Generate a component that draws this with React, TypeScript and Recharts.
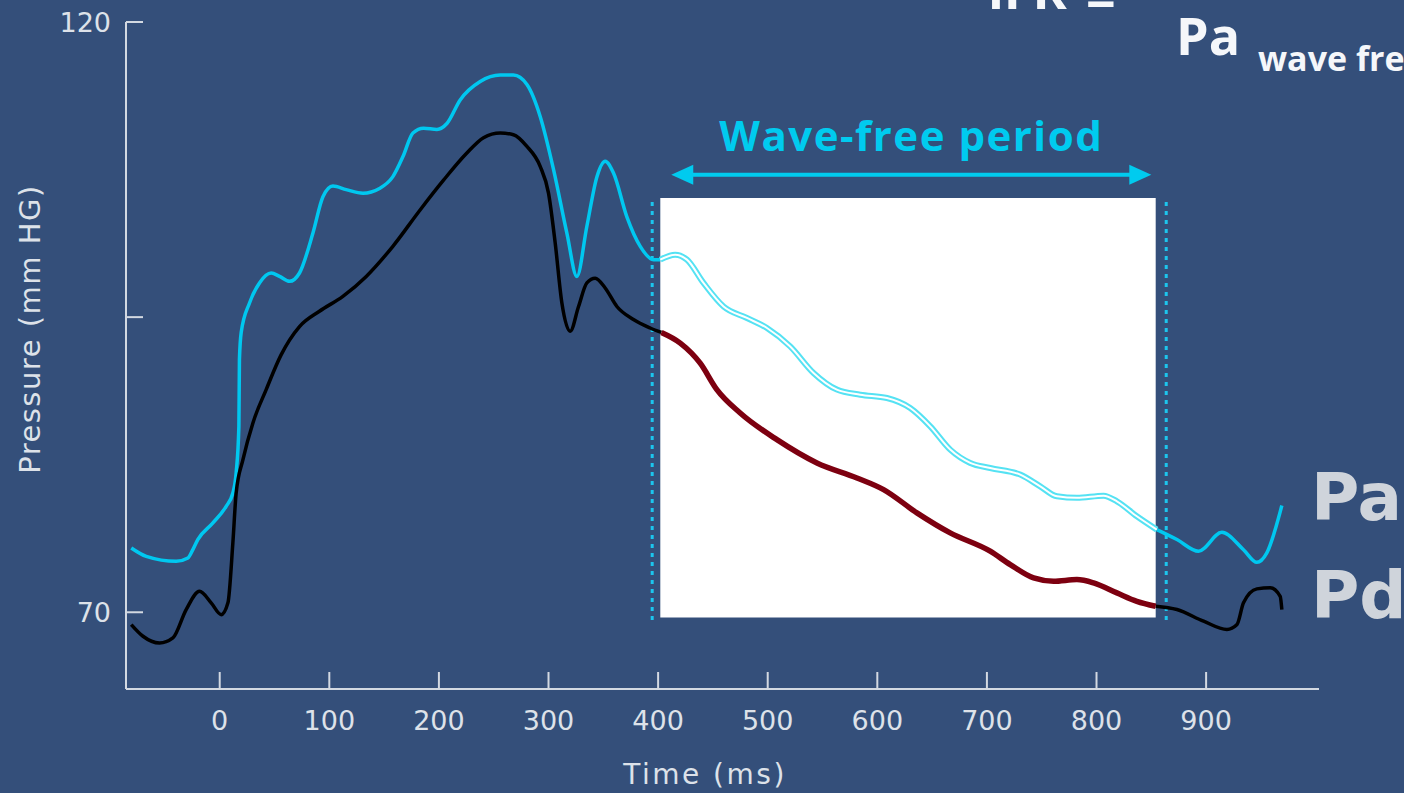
import { LineChart, Line, XAxis, YAxis, ReferenceArea, ReferenceLine } from 'recharts';

// time (ms), pressure (mmHg)
const paBefore: [number, number][] = [
  [-80.7, 75.45], [-67, 74.74], [-39.7, 74.32], [-29, 74.6], [-24.5, 75.3], [-20, 76.15],
  [-6.2, 77.57], [5.9, 78.98], [12, 80.1], [15, 81.8], [17.5, 85.75], [18, 91.4], [19.6, 93.7],
  [27.2, 96.2], [36.3, 97.9], [47, 98.74], [54.6, 98.45], [63.7, 98.03], [72.8, 98.74],
  [85, 102.1], [94.2, 105.2], [103.3, 106.1], [115.4, 105.8], [130.7, 105.5], [145.8, 105.9],
  [158, 106.9], [167.2, 108.6], [176.3, 110.6], [186, 111.0], [198.2, 110.9], [207.3, 111.4],
  [219.4, 113.4], [237.7, 114.96], [255.9, 115.5], [268, 115.5], [280.3, 114.7], [292.4, 112.0],
  [304.6, 107.5], [316.8, 102.1], [325.9, 98.45], [335, 102.7], [344.2, 106.9], [351.7, 108.2],
  [359.3, 107.2], [371.5, 103.5], [383.7, 101.0], [395.8, 99.87], [402, 99.87],
];
const paWaveFree: [number, number][] = [
  [402, 99.87], [415.6, 100.29], [426.3, 99.87], [441.4, 97.9], [459.7, 95.9], [481, 94.93],
  [499.3, 94.08], [520.5, 92.52], [541.8, 90.27], [563.1, 88.86], [584.4, 88.43], [608.8, 88.15],
  [630, 87.3], [648.3, 85.75], [666.5, 83.78], [684.8, 82.65], [703, 82.22], [730.4, 81.66],
  [748.6, 80.67], [763.9, 79.82], [782.1, 79.69], [806.4, 79.88], [818.6, 79.4], [836.8, 78.13],
  [855, 77.0],
];
const paAfter: [number, number][] = [
  [855, 77.0], [873.4, 76.16], [893.1, 75.17], [914.4, 76.77], [934.1, 75.3], [946.3, 74.23],
  [955.4, 75.03], [969.1, 79.04],
];
const pdBefore: [number, number][] = [
  [-80.7, 68.96], [-70, 67.97], [-54.9, 67.4], [-42.7, 67.83], [-30.6, 70.23], [-18.4, 71.78],
  [-7.8, 70.8], [1.4, 69.8], [7.5, 70.8], [12, 75.88], [15, 80.1], [21.2, 82.93], [30.3, 86.04],
  [42.4, 88.86], [56, 91.8], [72.8, 94.2], [91, 95.5], [112.4, 96.76], [133.7, 98.45], [158, 101],
  [183, 104.1], [204.2, 106.6], [225.5, 108.9], [240.7, 110.2], [255.9, 110.6], [268, 110.45],
  [280.3, 109.46], [292.4, 107.77], [300, 105.5], [306.1, 101.28], [312.2, 96.2], [319.8, 93.8],
  [327.4, 95.9], [335, 97.9], [342.6, 98.3], [351.7, 97.47], [362.4, 95.9], [377.5, 94.8],
  [392.8, 94.08], [403, 93.7],
];
const pdWaveFree: [number, number][] = [
  [403, 93.7], [420.2, 92.8], [438.4, 91.1], [453.6, 88.86], [474.9, 86.88], [508.4, 84.62],
  [544.9, 82.65], [581.4, 81.38], [605.7, 80.39], [636.1, 78.42], [666.5, 76.72], [703, 75.17],
  [721.3, 74.04], [742.6, 72.91], [760.8, 72.63], [782.1, 72.77], [797.3, 72.49], [818.6, 71.64],
  [836.8, 70.93], [854, 70.51],
];
const pdAfter: [number, number][] = [
  [854, 70.51], [873.4, 70.23], [897.7, 69.24], [919, 68.54], [928.2, 68.96], [934.1, 70.8],
  [946.3, 71.98], [958.5, 72.07], [967.6, 71.35], [969.1, 70.23],
];

const xTicks = [0, 100, 200, 300, 400, 500, 600, 700, 800, 900];
const yTicks = [70, 95, 120];
const yTickLabels: Record<number, string> = { 70: '70', 95: '', 120: '120' };

// wave-free window
const windowStart = 402;
const windowEnd = 854;
const windowLow = 69.55;
const windowHigh = 105.1;
const markerLeft = 394.6;
const markerRight = 863.6;
const arrowStart = 412;
const arrowEnd = 850;
const arrowLevel = 107.06;

const toPoints = (rows: [number, number][]) => rows.map(([t, p]) => ({ t, p }));

const BG = '#344f7a';
const AXIS = '#d3d9e2';
const LABEL = '#dde2e9';
const CYAN = '#00cbef';
const FONT = '"DejaVu Sans", sans-serif';

function YTick(props: any) {
  const { x, y, payload } = props;
  return (
    <g>
      <line x1={x} x2={x + 17} y1={y} y2={y} stroke={AXIS} strokeWidth={2} />
      <text x={x - 15} y={y + 10} textAnchor="end" fill={LABEL} fontSize={27} fontFamily={FONT}>
        {yTickLabels[payload.value]}
      </text>
    </g>
  );
}

function XTick(props: any) {
  const { x, y, payload } = props;
  return (
    <g>
      <line x1={x} x2={x} y1={y - 17} y2={y} stroke={AXIS} strokeWidth={2} />
      <text x={x} y={y + 41} textAnchor="middle" fill={LABEL} fontSize={27} fontFamily={FONT}>
        {payload.value}
      </text>
    </g>
  );
}

function WindowArrow(props: any) {
  const { x1, x2, y1 } = props;
  const cx = (x1 + x2) / 2;
  return (
    <g>
      <line x1={x1 + 10} x2={x2 - 10} y1={y1} y2={y1} stroke={CYAN} strokeWidth={4} />
      <polygon points={`${x1},${y1} ${x1 + 22},${y1 - 10} ${x1 + 22},${y1 + 10}`} fill={CYAN} />
      <polygon points={`${x2},${y1} ${x2 - 22},${y1 - 10} ${x2 - 22},${y1 + 10}`} fill={CYAN} />
      <text
        x={cx}
        y={y1 - 24}
        textAnchor="middle"
        fill={CYAN}
        fontSize={42}
        fontWeight={700}
        letterSpacing={1.5}
        fontFamily='"Open Sans", sans-serif'
      >
        Wave-free period
      </text>
    </g>
  );
}

export default function App() {
  return (
    <div
      style={{
        position: 'fixed',
        left: 0,
        top: 0,
        width: 1404,
        height: 793,
        overflow: 'hidden',
        background: BG,
      }}
    >
      <LineChart width={1404} height={793} margin={{ top: 22, right: 85, bottom: 0, left: 0 }}>
        <XAxis
          type="number"
          dataKey="t"
          domain={[-85.5, 1003]}
          ticks={xTicks}
          height={104}
          tickSize={0}
          tickMargin={0}
          tickLine={false}
          tick={<XTick />}
          axisLine={{ stroke: AXIS, strokeWidth: 2 }}
          allowDataOverflow
        />
        <YAxis
          type="number"
          dataKey="p"
          domain={[63.5, 120]}
          ticks={yTicks}
          width={126}
          tickSize={0}
          tickMargin={0}
          tickLine={false}
          tick={<YTick />}
          axisLine={{ stroke: AXIS, strokeWidth: 2 }}
          allowDataOverflow
        />
        <ReferenceArea
          x1={windowStart}
          x2={windowEnd}
          y1={windowLow}
          y2={windowHigh}
          fill="#ffffff"
          fillOpacity={1}
          stroke="none"
        />
        <ReferenceLine
          segment={[{ x: markerLeft, y: windowLow - 0.2 }, { x: markerLeft, y: windowHigh }]}
          stroke="#1cc6ee"
          strokeWidth={3}
          strokeDasharray="4 5"
        />
        <ReferenceLine
          segment={[{ x: markerRight, y: windowLow - 0.2 }, { x: markerRight, y: windowHigh }]}
          stroke="#1cc6ee"
          strokeWidth={3}
          strokeDasharray="4 5"
        />
        <ReferenceLine
          segment={[{ x: arrowStart, y: arrowLevel }, { x: arrowEnd, y: arrowLevel }]}
          shape={(p: any) => <WindowArrow {...p} />}
        />

        <Line data={toPoints(paBefore)} dataKey="p" type="monotone" stroke="#00c8f0" strokeWidth={3.5} dot={false} activeDot={false} isAnimationActive={false} />
        <Line data={toPoints(paAfter)} dataKey="p" type="monotone" stroke="#00c8f0" strokeWidth={3.5} dot={false} activeDot={false} isAnimationActive={false} />
        <Line data={toPoints(paWaveFree)} dataKey="p" type="monotone" stroke="#55e2f3" strokeWidth={6} dot={false} activeDot={false} isAnimationActive={false} />
        <Line data={toPoints(paWaveFree)} dataKey="p" type="monotone" stroke="#ffffff" strokeWidth={2} dot={false} activeDot={false} isAnimationActive={false} />
        <Line data={toPoints(pdBefore)} dataKey="p" type="monotone" stroke="#000000" strokeWidth={3.5} dot={false} activeDot={false} isAnimationActive={false} />
        <Line data={toPoints(pdAfter)} dataKey="p" type="monotone" stroke="#000000" strokeWidth={3.5} dot={false} activeDot={false} isAnimationActive={false} />
        <Line data={toPoints(pdWaveFree)} dataKey="p" type="monotone" stroke="#7d0010" strokeWidth={5.5} dot={false} activeDot={false} isAnimationActive={false} />
      </LineChart>

      <svg
        width={1404}
        height={793}
        style={{ position: 'absolute', left: 0, top: 0, pointerEvents: 'none' }}
      >
        <text
          x={30}
          y={329}
          transform="rotate(-90 30 329)"
          textAnchor="middle"
          dominantBaseline="central"
          fill={LABEL}
          fontSize={29}
          letterSpacing={1.5}
          fontFamily={FONT}
        >
          Pressure (mm HG)
        </text>
        <text x={705} y={784} textAnchor="middle" fill={LABEL} fontSize={28} letterSpacing={2.5} fontFamily={FONT}>
          Time (ms)
        </text>

        <text x={1311} y={520} fill="#cfd4db" fontSize={66} fontWeight={700} fontFamily={FONT}>Pa</text>
        <text x={1311} y={618} fill="#cfd4db" fontSize={66} fontWeight={700} fontFamily={FONT}>Pd</text>

        <g fill="#f5f7fa" fontFamily='"Open Sans", sans-serif' fontWeight={700}>
          <text x={988} y={9} fontSize={52}>iFR</text>
          <text x={1086} y={18} fontSize={52}>=</text>
          <text x={1176} y={55} fontSize={52}>Pa</text>
          <text x={1258} y={71} fontSize={34}>wave free</text>
        </g>
      </svg>
    </div>
  );
}
